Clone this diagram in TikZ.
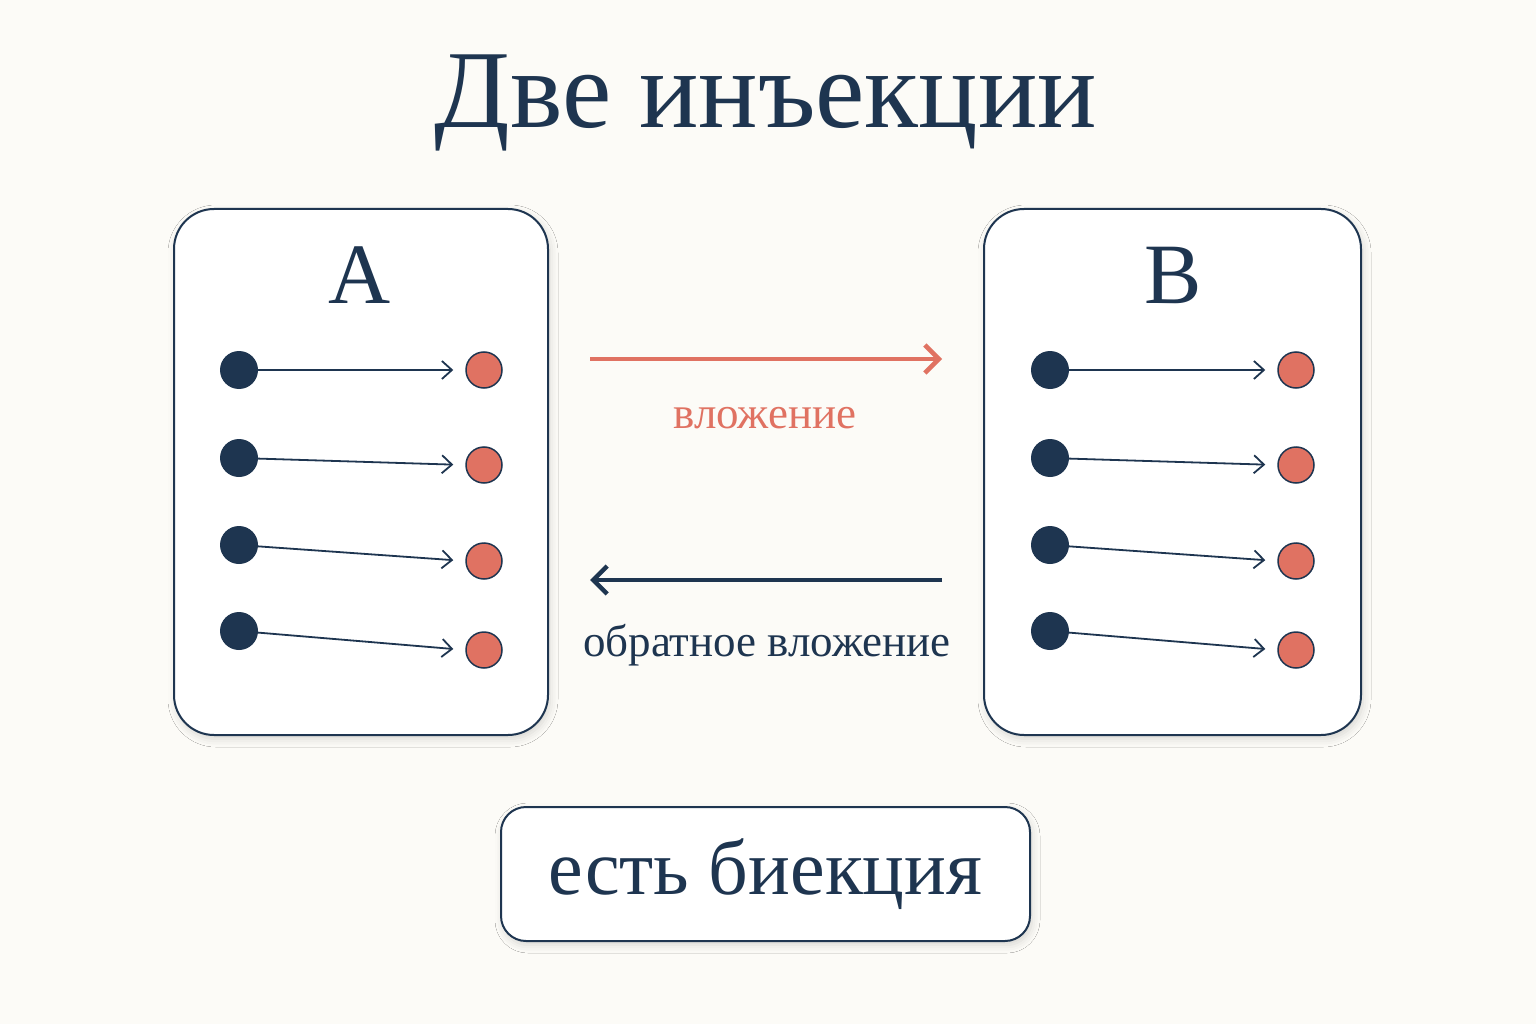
\documentclass[tikz,border=0pt]{standalone}
\usepackage{fontspec}
\setmainfont{Liberation Serif}
\usetikzlibrary{arrows.meta,shadows.blur}
\definecolor{navy}{HTML}{1E3550}
\definecolor{salmon}{HTML}{E07262}
\definecolor{bg}{HTML}{FCFBF7}
\begin{document}
\begin{tikzpicture}[x=1pt,y=-1pt,
  box/.style={draw=navy,line width=2pt,fill=white,rounded corners=40pt,blur shadow={shadow xshift=2pt,shadow yshift=-4pt,shadow blur radius=8pt,shadow opacity=15}},
  src/.style={circle,fill=navy,minimum size=38pt,inner sep=0pt},
  tgt/.style={circle,fill=salmon,draw=navy,line width=1.5pt,minimum size=36pt,inner sep=0pt},
  map/.style={draw=navy,line width=1.8pt,shorten >=12pt,-{Straight Barb[length=10pt,width=18pt,line width=1.8pt]}},
  big/.style={line width=4.5pt,-{Straight Barb[length=14pt,width=28pt,line width=4.5pt]}}]
\fill[bg] (0,0) rectangle (1536,1024);
\useasboundingbox (0,0) rectangle (1536,1024);
\node[text=navy,font=\fontsize{111}{115}\selectfont] (title) at (766,103) {Две инъекции};
\draw[box] (174,209) rectangle (548,735);
\draw[box] (984,209) rectangle (1361,735);
\node[text=navy,font=\fontsize{86}{90}\selectfont] (A) at (360,275) {A};
\node[text=navy,font=\fontsize{86}{90}\selectfont] (B) at (1173,275) {B};
\foreach \i/\ys/\yt in {1/370/370,2/458/465,3/545/561,4/631/650}{
  \node[src] (a\i) at (239,\ys) {};
  \node[tgt] (ra\i) at (484,\yt) {};
  \draw[map] (a\i.center) -- (ra\i.west);
  \node[src] (b\i) at (1050,\ys) {};
  \node[tgt] (rb\i) at (1296,\yt) {};
  \draw[map] (b\i.center) -- (rb\i.west);
}
\coordinate (r1) at (590,359); \coordinate (r2) at (942,359);
\draw[big,draw=salmon] (r1) -- (r2);
\node[text=salmon,font=\fontsize{45}{48}\selectfont] (l1) at (765,418) {вложение};
\coordinate (d1) at (942,580); \coordinate (d2) at (590,580);
\draw[big,draw=navy] (d1) -- (d2);
\node[text=navy,font=\fontsize{45}{48}\selectfont] (l2) at (767,645) {обратное вложение};
\node[draw=navy,line width=2pt,fill=white,rounded corners=25pt,minimum width=529pt,minimum height=134pt,text=navy,font=\fontsize{78}{82}\selectfont,blur shadow={shadow xshift=2pt,shadow yshift=-4pt,shadow blur radius=8pt,shadow opacity=15}] (res) at (765.5,874) {есть биекция};
\end{tikzpicture}
\end{document}
